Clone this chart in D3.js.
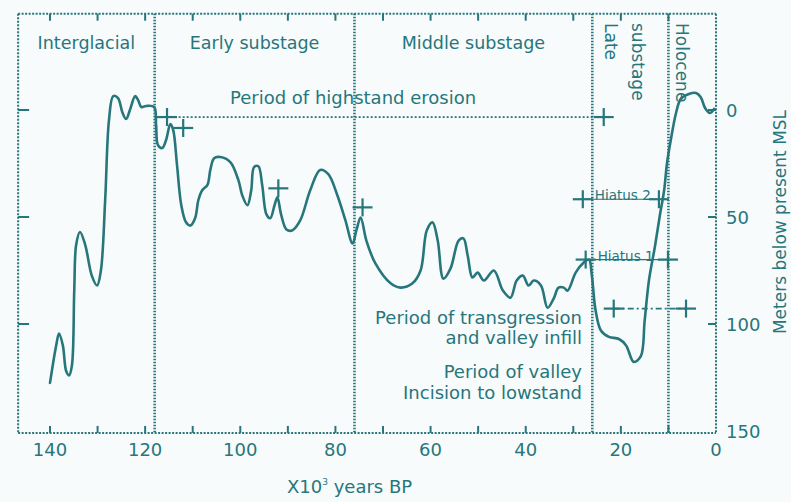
<!DOCTYPE html>
<html>
<head>
<meta charset="utf-8">
<script src="https://cdn.jsdelivr.net/npm/d3@7"></script>
<style>
  html, body { margin: 0; padding: 0; background: #f8fbfb; }
  svg { display: block; }
  text { font-family: "DejaVu Sans", "Liberation Sans", Arial, sans-serif; fill: #26767c; }
</style>
</head>
<body>
<svg id="chart" width="791" height="502"></svg>
<script>
// ---------------- DATA ----------------
const curveAges = [140.0,138.7,138.1,137.3,136.6,136.0,135.4,134.9,134.5,133.7,132.6,131.2,130.1,129.3,128.4,127.6,126.7,125.7,124.8,124.0,123.2,122.1,121.5,120.8,119.8,118.1,117.7,117.3,116.4,115.6,114.7,114.1,113.3,112.4,111.4,110.5,109.5,108.8,108.0,106.9,106.3,105.5,104.2,102.1,100.4,99.6,98.5,97.7,97.1,96.2,95.4,94.5,93.7,92.8,92.2,91.4,90.3,89.1,87.4,85.3,83.2,81.5,79.6,77.9,76.4,75.6,74.7,73.5,71.6,68.4,66.3,63.8,62.1,60.8,59.6,58.5,57.3,55.8,54.1,53.1,52.2,51.2,50.1,48.8,46.7,44.8,43.2,41.9,40.6,39.4,38.3,36.8,35.4,34.1,33.1,32.0,31.2,29.5,27.8,26.7,26.1,25.3,24.2,22.5,20.4,18.9,17.3,15.8,15.0,14.1,12.8,11.8,10.9,10.3,9.5,8.4,7.4,5.7,4.2,3.2,2.3,1.3,0.4];
const curveDepths = [127.5,110,104.5,110,122,124,119.5,84,63,57,63,77.5,82,75,42,4.7,-6.5,-5.6,1,4.2,0,-6.5,-4.7,-1.4,-1.9,-1.4,7,16.4,17.8,14,6.6,9.4,25.8,44.5,52.5,54,50.6,42,37.5,35,28,22.5,22,24.4,32.8,39.8,44.5,37.5,26.7,26.3,35,48.8,50.6,44.5,40.8,49,55.8,56.3,51.6,37.5,28,30,39.8,51.6,62.4,56.3,50.2,61,71.7,81,83,81,75,56.3,52.5,61,78.8,74,61,60,68,78.3,76,79.7,75,84.4,87.7,79.7,77.4,82,79.7,82,92.4,88,83,83,84.4,76,71.3,69.9,77.4,93.8,103,106,107,110,117.7,115,98.5,79.7,63.3,49.2,37.5,24.8,14,1.4,-5.2,-7.5,-8,-6,-0.9,1.4,-0.5];

const stageNames = ["Interglacial", "Early substage", "Middle substage"];
const stageBounds = [118, 76, 26, 10];     // ka BP: Interglacial|Early|Middle|Late|Holocene
const lateLabel = ["Late", "substage"];
const holoceneLabel = "Holocene";

const xTickLabels = [140, 120, 100, 80, 60, 40, 20, 0];
const xMinorTicks = [140, 130, 120, 110, 100, 90, 80, 70, 60, 50, 40, 30, 20, 10];
const yTickLabels = [0, 50, 100, 150];
const yInnerTicks = [0, 50, 100];

// Dated points (plus markers)
const markerAges   = [115.4, 112.0, 92.0, 74.3, 23.6];
const markerDepths = [3.3, 8.4, 36.6, 45.5, 3.3];

// Horizontal reference lines [ageStart, ageEnd, depth]
const highstandLine = [118, 23.6, 3.3];
const hiatus2 = [28.0, 12.0, 41.7];
const hiatus1 = [27.4, 10.1, 69.9];
const lowLine = [21.5, 6.3, 92.8];

// ---------------- LAYOUT ----------------
const color = "#26767c";
const svg = d3.select("#chart");
const x = d3.scaleLinear().domain([0, 140]).range([716, 50]);
const y = d3.scaleLinear().domain([0, 150]).range([110, 431]);
const frameAge = [146.7, 0];
const frameDepth = [-45, 150.9];
const pL = x(frameAge[0]), pR = x(frameAge[1]);
const pT = y(frameDepth[0]), pB = y(frameDepth[1]);

// Frame (dotted)
const frame = svg.append("g").attr("fill", "none").attr("stroke", color)
  .attr("stroke-width", 2).attr("stroke-dasharray", "2,1.5");
frame.append("line").attr("x1", pL).attr("x2", pR).attr("y1", pT).attr("y2", pT);
frame.append("line").attr("x1", pL).attr("x2", pR).attr("y1", pB).attr("y2", pB);
frame.append("line").attr("x1", pL).attr("x2", pL).attr("y1", pT).attr("y2", pB);
frame.append("line").attr("x1", pR).attr("x2", pR).attr("y1", pT).attr("y2", pB);

// Stage boundary lines
svg.append("g").selectAll("line").data(stageBounds).join("line")
  .attr("x1", d => x(d)).attr("x2", d => x(d))
  .attr("y1", pT).attr("y2", pB)
  .attr("stroke", color).attr("stroke-width", 2.6).attr("stroke-dasharray", "1.6,1.4");

// Ticks
const ticks = svg.append("g").attr("stroke", color).attr("stroke-width", 2);
ticks.selectAll(".tt").data(xMinorTicks).join("line").attr("class", "tt")
  .attr("x1", d => x(d)).attr("x2", d => x(d)).attr("y1", pT).attr("y2", pT + 7);
ticks.selectAll(".bt").data(xMinorTicks).join("line").attr("class", "bt")
  .attr("x1", d => x(d)).attr("x2", d => x(d)).attr("y1", pB).attr("y2", pB - 7);
ticks.selectAll(".lt").data(yInnerTicks).join("line").attr("class", "lt")
  .attr("x1", pL).attr("x2", pL + 11).attr("y1", d => y(d)).attr("y2", d => y(d));
ticks.selectAll(".rt").data(yInnerTicks).join("line").attr("class", "rt")
  .attr("x1", pR).attr("x2", pR - 8).attr("y1", d => y(d)).attr("y2", d => y(d));

// Tick labels
svg.append("g").selectAll("text").data(xTickLabels).join("text")
  .attr("x", d => x(d)).attr("y", 456).attr("text-anchor", "middle")
  .attr("font-size", 18).text(d => d);
svg.append("g").selectAll("text").data(yTickLabels).join("text")
  .attr("x", 726).attr("y", d => y(d) + 7).attr("font-size", 18).text(d => d);

// Axis titles
const xt = svg.append("text").attr("x", 287).attr("y", 493).attr("font-size", 18);
xt.append("tspan").text("X10");
xt.append("tspan").attr("font-size", 9).attr("dy", -8).text("3");
xt.append("tspan").attr("dy", 8).text(" years BP");
svg.append("text").attr("transform", "translate(786,222) rotate(-90)")
  .attr("text-anchor", "middle").attr("font-size", 17).text("Meters below present MSL");

// Stage labels
const stageEdges = [frameAge[0], ...stageBounds];
svg.append("g").selectAll("text").data(stageNames).join("text")
  .attr("x", (d, i) => x((stageEdges[i] + stageEdges[i + 1]) / 2))
  .attr("y", 49).attr("text-anchor", "middle").attr("font-size", 17.5).text(d => d);
svg.append("text").attr("transform", `translate(${x(stageBounds[2]) + 13},23) rotate(90)`)
  .attr("font-size", 17).text(lateLabel[0]);
svg.append("text").attr("transform", `translate(${x(stageBounds[2]) + 40},23) rotate(90)`)
  .attr("font-size", 17).text(lateLabel[1]);
svg.append("text").attr("transform", `translate(${x(stageBounds[3]) + 8},23) rotate(90)`)
  .attr("font-size", 17).text(holoceneLabel);

// Reference lines
svg.append("line").attr("x1", x(highstandLine[0])).attr("x2", x(highstandLine[1]))
  .attr("y1", y(highstandLine[2])).attr("y2", y(highstandLine[2]))
  .attr("stroke", color).attr("stroke-width", 1.8).attr("stroke-dasharray", "2,2");
svg.append("text").attr("x", 230).attr("y", 104).attr("font-size", 18)
  .text("Period of highstand erosion");

[hiatus2, hiatus1].forEach((h, i) => {
  svg.append("line").attr("x1", x(h[0])).attr("x2", x(h[1]))
    .attr("y1", y(h[2])).attr("y2", y(h[2]))
    .attr("stroke", color).attr("stroke-width", 1.2);
  svg.append("text").attr("x", x(h[0]) + 12).attr("y", y(h[2]) + 1)
    .attr("font-size", 13.5).text(i === 0 ? "Hiatus 2" : "Hiatus 1");
});
svg.append("line").attr("x1", x(lowLine[0])).attr("x2", x(lowLine[1]))
  .attr("y1", y(lowLine[2])).attr("y2", y(lowLine[2]))
  .attr("stroke", color).attr("stroke-width", 1.6).attr("stroke-dasharray", "6,3,2,3");

// Plus markers
const plusPts = markerAges.map((a, i) => [a, markerDepths[i]])
  .concat([[hiatus2[0], hiatus2[2]], [hiatus2[1], hiatus2[2]],
           [hiatus1[0], hiatus1[2]], [hiatus1[1], hiatus1[2]],
           [lowLine[0], lowLine[2]], [lowLine[1], lowLine[2]]]);
const plus = svg.append("g").attr("stroke", color).attr("stroke-width", 2.2);
plusPts.forEach(p => {
  const cx = x(p[0]), cy = y(p[1]);
  plus.append("line").attr("x1", cx - 10).attr("x2", cx + 10).attr("y1", cy).attr("y2", cy);
  plus.append("line").attr("x1", cx).attr("x2", cx).attr("y1", cy - 9).attr("y2", cy + 9);
});

// Annotation text
const notes = [
  ["Period of transgression", 324],
  ["and valley infill", 344],
  ["Period of valley", 378],
  ["Incision to lowstand", 399]
];
svg.append("g").selectAll("text").data(notes).join("text")
  .attr("x", 582).attr("y", d => d[1]).attr("text-anchor", "end")
  .attr("font-size", 18).text(d => d[0]);

// Sea-level curve
const line = d3.line().x(d => x(d[0])).y(d => y(d[1])).curve(d3.curveCatmullRom.alpha(0.5));
svg.append("path").datum(curveAges.map((a, i) => [a, curveDepths[i]]))
  .attr("d", line).attr("fill", "none").attr("stroke", color)
  .attr("stroke-width", 2.6).attr("stroke-linejoin", "round").attr("stroke-linecap", "round");
</script>
</body>
</html>
